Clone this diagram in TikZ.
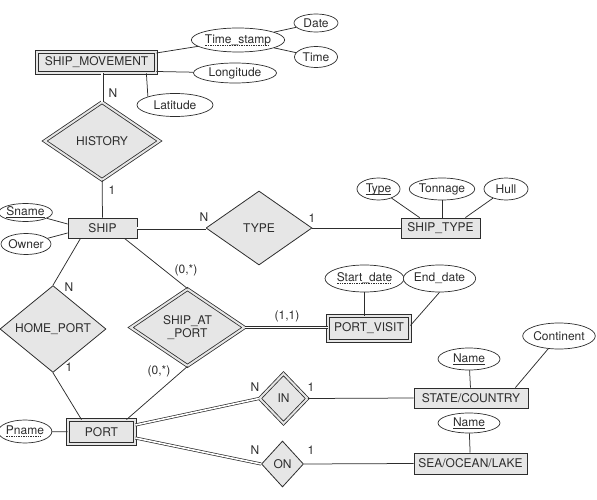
\documentclass[tikz,border=0pt]{standalone}
\usepackage{fontspec}
\setmainfont{TeX Gyre Heros}
\usetikzlibrary{shapes.geometric}
\definecolor{efill}{RGB}{230,230,230}
\definecolor{ink}{RGB}{45,45,45}
\newcommand\dashunder[1]{%
  \setbox0=\hbox{#1}%
  \dimen0=\wd0
  \rlap{\box0}%
  \hbox to \dimen0{\leaders\hbox to 2.4pt{\hss\vrule height -1.5pt depth 2.1pt width 1.4pt\hss}\hfill}}
\newcommand\solidunder[1]{%
  \setbox0=\hbox{#1}%
  \dimen0=\wd0
  \rlap{\box0}%
  \hbox to \dimen0{\vrule height -1.5pt depth 2.1pt width \dimen0}}
\begin{document}
\begin{tikzpicture}[x=1pt,y=-1pt,
  every node/.style={font=\fontsize{12}{13.5}\selectfont, text=ink},
  ent/.style={draw=ink, fill=efill, line width=0.8pt, rectangle, inner sep=0pt},
  went/.style={ent, double=efill, double distance=2pt},
  rel/.style={draw=ink, fill=efill, line width=0.8pt, diamond, inner sep=0pt},
  wrel/.style={rel, double=efill, double distance=2pt},
  att/.style={draw=ink, fill=white, line width=0.7pt, ellipse, inner sep=0pt},
  lbl/.style={inner sep=0pt},
  conn/.style={draw=ink, line width=0.75pt},
  dconn/.style={draw=ink, line width=0.7pt, double=white, double distance=1.6pt},
]
\useasboundingbox (0,0) rectangle (597,500);

% entities
\node[went, minimum width=119pt, minimum height=21pt] (sm) at (96.5,62.5) {SHIP\_MOVEMENT};
\node[ent, minimum width=69pt, minimum height=20pt] (ship) at (102.5,228) {SHIP};
\node[ent, minimum width=79pt, minimum height=20pt] (shiptype) at (440.5,228) {SHIP\_TYPE};
\node[went, minimum width=82pt, minimum height=25pt] (pv) at (369,328.5) {PORT\_VISIT};
\node[went, minimum width=67pt, minimum height=24pt] (port) at (101.5,432) {PORT};
\node[ent, minimum width=114pt, minimum height=20pt] (state) at (471,398) {STATE/COUNTRY};
\node[ent, minimum width=113pt, minimum height=21pt] (sea) at (470.5,463.5) {SEA/OCEAN/LAKE};

% relationships
\node[wrel, minimum width=115pt, minimum height=78pt] (hist) at (102,141) {HISTORY};
\node[rel, minimum width=106pt, minimum height=74pt] (type) at (259,228) {TYPE};
\node[rel, minimum width=106pt, minimum height=76pt] (hp) at (53,329) {HOME\_PORT};
\node[wrel, minimum width=114pt, minimum height=77pt, align=center] (sap) at (187.5,327.5) {SHIP\_AT\\\_PORT};
\node[wrel, minimum width=48pt, minimum height=50pt] (in) at (283.5,398.5) {IN};
\node[rel, minimum width=42pt, minimum height=46pt] (on) at (282.5,464) {ON};

% attributes
\node[att, minimum width=90pt, minimum height=24pt] (ts) at (238,40) {\dashunder{Time\_stamp}};
\node[att, minimum width=44pt, minimum height=18pt] (date) at (316,23) {Date};
\node[att, minimum width=43pt, minimum height=21pt] (time) at (316,57) {Time};
\node[att, minimum width=83pt, minimum height=20pt] (lon) at (235,73) {Longitude};
\node[att, minimum width=76pt, minimum height=23pt] (lat) at (175,105) {Latitude};
\node[att, minimum width=47pt, minimum height=18pt] (sname) at (25.5,212.5) {\solidunder{Sname}};
\node[att, minimum width=47pt, minimum height=21pt] (owner) at (26,244) {Owner};
\node[att, minimum width=43pt, minimum height=22pt] (typeatt) at (378.5,189) {\solidunder{Type}};
\node[att, minimum width=62pt, minimum height=22pt] (ton) at (442,189) {Tonnage};
\node[att, minimum width=44pt, minimum height=22pt] (hull) at (506,189) {Hull};
\node[att, minimum width=79pt, minimum height=27pt] (sd) at (364.5,278.5) {\dashunder{Start\_date}};
\node[att, minimum width=61pt, minimum height=27pt] (ed) at (439.5,278.5) {End\_date};
\node[att, minimum width=48pt, minimum height=23pt] (pname) at (25,431.5) {\dashunder{Pname}};
\node[att, minimum width=62pt, minimum height=22pt] (name1) at (469,359) {\solidunder{Name}};
\node[att, minimum width=62pt, minimum height=26pt] (cont) at (559,336) {Continent};
\node[att, minimum width=62pt, minimum height=20pt] (name2) at (469,423) {\solidunder{Name}};

% connectors
\draw[dconn] (hist.north |- sm.south) -- (hist.north);
\draw[conn] (hist) -- (ship);
\draw[conn] (sm) -- (ts);
\draw[conn] (ts) -- (date);
\draw[conn] (ts) -- (time);
\draw[conn] ([yshift=-9pt]sm.east) -- (lon);
\draw[conn] ([xshift=-10pt]sm.south east) -- (lat.north west);
\draw[conn] (sname) -- ([yshift=4pt]ship.west);
\draw[conn] (owner) -- ([yshift=-5pt]ship.west);
\draw[dconn] (ship) -- (type);
\draw[conn] (type) -- (shiptype);
\draw[conn] (typeatt) -- ([xshift=19pt]shiptype.north west);
\draw[conn] (ton) -- (ton |- shiptype.north);
\draw[conn] (hull) -- ([xshift=-15pt]shiptype.north east);
\draw[conn] ([xshift=-22pt]ship.south) -- (hp.north);
\draw[conn] ([xshift=22pt]ship.south) -- (sap.north);
\draw[conn] (hp.south) -- ([xshift=-20pt]port.north);
\draw[conn] (sap.south) -- ([xshift=25pt]port.north);
\draw[dconn] (sap.east) -- (sap.east -| pv.west);
\draw[conn] (sd) -- (sd |- pv.north);
\draw[conn] (ed.south) -- ([yshift=3pt]pv.east);
\draw[conn] (pname) -- (port);
\draw[dconn] ([yshift=7pt]port.east) -- (in.west);
\draw[dconn] ([yshift=-6pt]port.east) -- (on.west);
\draw[conn] (in.east) -- (state.west);
\draw[conn] (on.east) -- (sea.west);
\draw[conn] (name1) -- (state);
\draw[conn] (cont) -- ([xshift=-13pt]state.north east);
\draw[conn] (name2) -- (sea);

% cardinality labels
\node[lbl] (c1) at (113,93) {N};
\node[lbl] (c2) at (112,190) {1};
\node[lbl] (c3) at (204,217) {N};
\node[lbl] (c4) at (312,218) {1};
\node[lbl] (c5) at (69,287) {N};
\node[lbl] (c6) at (69,367) {1};
\node[lbl] (c7) at (186,270) {(0,*)};
\node[lbl] (c8) at (159,371) {(0,*)};
\node[lbl] (c9) at (287,316) {(1,1)};
\node[lbl] (c10) at (255,387) {N};
\node[lbl] (c11) at (311,387) {1};
\node[lbl] (c12) at (255,450) {N};
\node[lbl] (c13) at (311,450) {1};
\end{tikzpicture}
\end{document}
